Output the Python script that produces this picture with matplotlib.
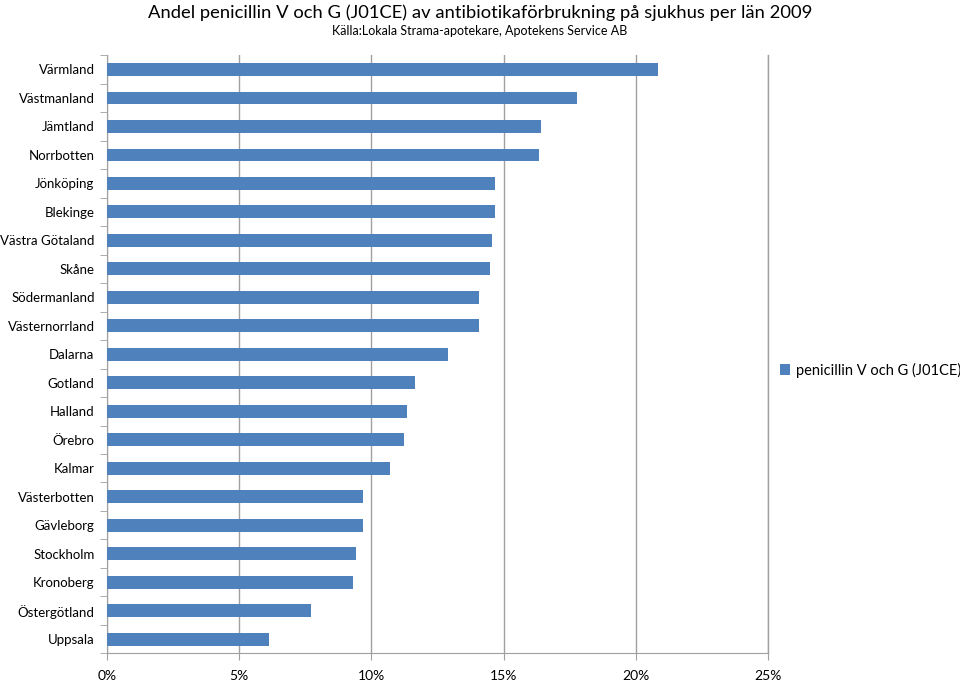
import numpy as np
import matplotlib
matplotlib.use("Agg")
import matplotlib.pyplot as plt
from matplotlib.ticker import FixedLocator

plt.rcParams['font.family'] = ['Lato', 'DejaVu Sans']

# Andel penicillin V och G per län, 2009 (procent)
lan = ["Värmland", "Västmanland", "Jämtland", "Norrbotten", "Jönköping",
       "Blekinge", "Västra Götaland", "Skåne", "Södermanland", "Västernorrland",
       "Dalarna", "Gotland", "Halland", "Örebro", "Kalmar", "Västerbotten",
       "Gävleborg", "Stockholm", "Kronoberg", "Östergötland", "Uppsala"]
andel = [20.85, 17.77, 16.43, 16.32, 14.69, 14.67, 14.55, 14.48, 14.07, 14.06,
         12.91, 11.65, 11.36, 11.25, 10.71, 9.69, 9.69, 9.41, 9.32, 7.72, 6.13]
xticks = [0, 5, 10, 15, 20, 25]
xticklabels = ["0%", "5%", "10%", "15%", "20%", "25%"]

fig = plt.figure(figsize=(9.6, 6.82), dpi=100)
ax = fig.add_axes([0.1115, 0.042, 0.6885, 0.877])

y = np.arange(len(lan))
ax.barh(y, andel, height=0.45, color="#4F81BD", label="penicillin V och G (J01CE)", zorder=3)
ax.set_ylim(len(lan) - 0.5, -0.5)
ax.set_xlim(0, 25)

ax.set_yticks(y)
ax.set_yticklabels(lan, fontsize=9.5)
ax.tick_params(axis="y", which="major", length=0, pad=9)
ax.yaxis.set_minor_locator(FixedLocator(np.arange(-0.5, len(lan), 1)))
ax.tick_params(axis="y", which="minor", length=5, color="#A0A0A0", direction="out")

ax.set_xticks(xticks)
ax.set_xticklabels(xticklabels, fontsize=10)
ax.tick_params(axis="x", length=5, color="#A0A0A0", pad=7)

ax.grid(axis="x", color="#A0A0A0", linewidth=1, zorder=0)
ax.axvline(25, color="#A0A0A0", linewidth=1, zorder=0, clip_on=False)
for s in ["top", "right"]:
    ax.spines[s].set_visible(False)
for s in ["left", "bottom"]:
    ax.spines[s].set_color("#A0A0A0")

fig.text(0.5, 0.981, "Andel penicillin V och G (J01CE) av antibiotikaförbrukning på sjukhus per län 2009",
         ha="center", va="center", fontsize=13.2)
fig.text(0.5, 0.955, "Källa:Lokala Strama-apotekare, Apotekens Service AB",
         ha="center", va="center", fontsize=9)

fig.legend(loc="center left", bbox_to_anchor=(0.799, 0.4575), frameon=False,
           fontsize=10.5, handlelength=0.7, handleheight=0.7, handletextpad=0.4)

plt.savefig("out.png", dpi=100)
plt.close()
